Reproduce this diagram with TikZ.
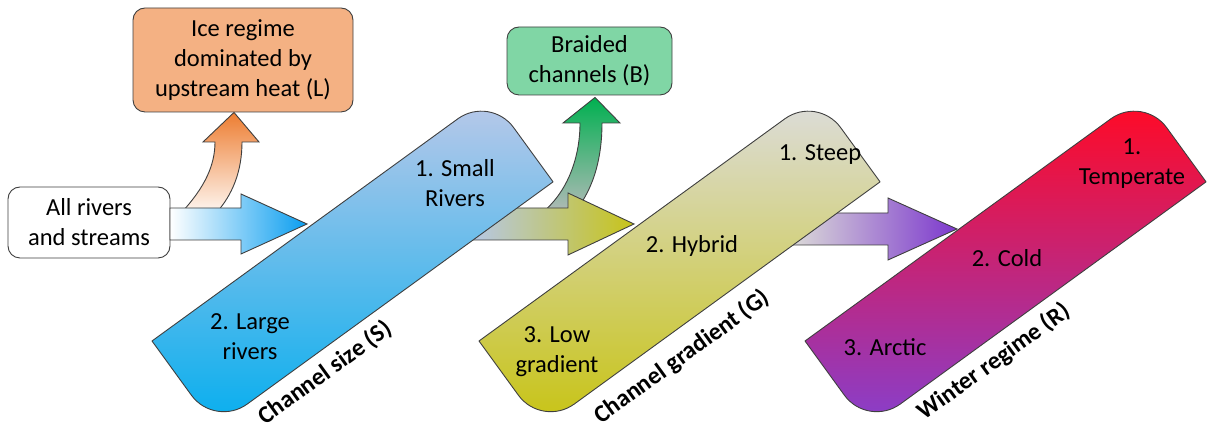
\documentclass[tikz,border=0pt]{standalone}
\usepackage{fontspec}
\setmainfont{Carlito}
\usetikzlibrary{calc}

\definecolor{edge}{HTML}{3F3F3F}
\definecolor{sizeTop}{HTML}{B6C8E9}
\definecolor{sizeBot}{HTML}{0BAFEE}
\definecolor{gradTop}{HTML}{DCDCD8}
\definecolor{gradBot}{HTML}{C8C418}
\definecolor{wintTop}{HTML}{FF0A26}
\definecolor{wintMid}{HTML}{D22C90}
\definecolor{wintBot}{HTML}{8A3EC8}
\definecolor{iceFill}{HTML}{F4B183}
\definecolor{braidFill}{HTML}{80D6A5}
\definecolor{iceHigh}{HTML}{ED7D31}
\definecolor{iceLow}{HTML}{FEF6F0}
\definecolor{braidHigh}{HTML}{00B050}
\definecolor{braidLow}{HTML}{B6BABA}

\newcommand{\bodyfont}{\fontsize{24.5}{30}\selectfont}

\tikzset{
  box/.style={draw=edge, line width=0.9pt, rounded corners=12pt, align=center, inner sep=0pt},
  band/.style={draw=edge, line width=0.9pt, line join=round},
  fat/.style={draw=edge, line width=0.9pt, line join=miter},
  lbl/.style={align=center},
  bandtitle/.style={font=\bodyfont\bfseries, rotate=36},
}

\begin{document}
\begin{tikzpicture}[x=1pt, y=1pt, every node/.style={font=\bodyfont}]
    \useasboundingbox (0,0) rectangle (1207,427);

    % boxes
    \node[box, fill=white, minimum width=162, minimum height=71] (all) at (89,204.5) {All rivers\\and streams};
    \node[box, fill=iceFill, minimum width=220, minimum height=104] (ice) at (243,367) {Ice regime\\dominated by\\upstream heat (L)};
    \node[box, fill=braidFill, minimum width=165, minimum height=68] (braid) at (589.5,366) {Braided\\channels (B)};

    % curved arrows up to the boxes
    \shade[fat, bottom color=iceLow, top color=iceHigh] (182,215) .. controls (205,240) and (215,262) .. (215,285)
        -- (203,285) -- ($(ice.south)+(-9,0)$) -- (259,285) -- (242,285)
        .. controls (242,255) and (232,232) .. (217,215) -- cycle;
    \shade[fat, bottom color=braidLow, top color=braidHigh] (543,215) .. controls (568,236) and (580,270) .. (580,304)
        -- (563,304) -- ($(braid.south)+(5.5,-2)$) -- (620,304) -- (602,304)
        .. controls (602,262) and (590,232) .. (572,212) -- cycle;

    % block arrows
    \coordinate (a1s) at (170,203);
    \coordinate (a1t) at (307,203);
    \coordinate (a2s) at (470,203);
    \coordinate (a2t) at (634,203);
    \coordinate (a3s) at (790,198);
    \coordinate (a3t) at (957,198);
    \shade[fat, left color=white, right color=sizeBot!90!blue] (a1s) ++(0,16) -- ++(71,0) -- ++(0,14) -- (a1t) -- ++(-66,-30) -- ++(0,14) -- ++(-71,0) -- cycle;
    \shade[fat, left color=sizeTop, right color=gradBot] (a2s) ++(0,16) -- ++(98,0) -- ++(0,15) -- (a2t) -- ++(-66,-31) -- ++(0,15) -- ++(-98,0) -- cycle;
    \shade[fat, left color=gradTop, right color=wintBot!90!blue] (a3s) ++(0,16) -- ++(98,0) -- ++(0,15) -- (a3t) -- ++(-69,-31) -- ++(0,15) -- ++(-98,0) -- cycle;

    % the three bands
    \foreach \sx/\ca/\cm/\cb/\nm in {152/sizeTop/sizeTop!50!sizeBot/sizeBot/size, 479/gradTop/gradTop!50!gradBot/gradBot/grad, 805/wintTop/wintMid/wintBot/wint}{
        \coordinate (\nm-a) at (\sx,86);
        \shade[band, top color=\ca, middle color=\cm, bottom color=\cb] (\nm-a) -- ++(36:378)
            arc[start angle=126, end angle=36, radius=40] -- ++(-54:67) -- ++(216:378)
            arc[start angle=-54, end angle=-144, radius=40] -- cycle;
    }

    \node[lbl] (size1) at (455,244) {1. Small\\Rivers};
    \node[lbl] (size2) at (250,90) {2. Large\\rivers};
    \node[bandtitle] (sizeT) at (325,54) {Channel size (S)};

    \node[lbl] (grad1) at (820,272) {1. Steep};
    \node[lbl] (grad2) at (692,181) {2. Hybrid};
    \node[lbl] (grad3) at (557,75) {3. Low\\gradient};
    \node[bandtitle] (gradT) at (682,70) {Channel gradient (G)};

    \node[lbl] (wint1) at (1132,263) {1.\\Temperate};
    \node[lbl] (wint2) at (1007,169) {2. Cold};
    \node[lbl] (wint3) at (885,80) {3. Arctic};
    \node[bandtitle] (wintT) at (994,65) {Winter regime (R)};

\end{tikzpicture}
\end{document}
